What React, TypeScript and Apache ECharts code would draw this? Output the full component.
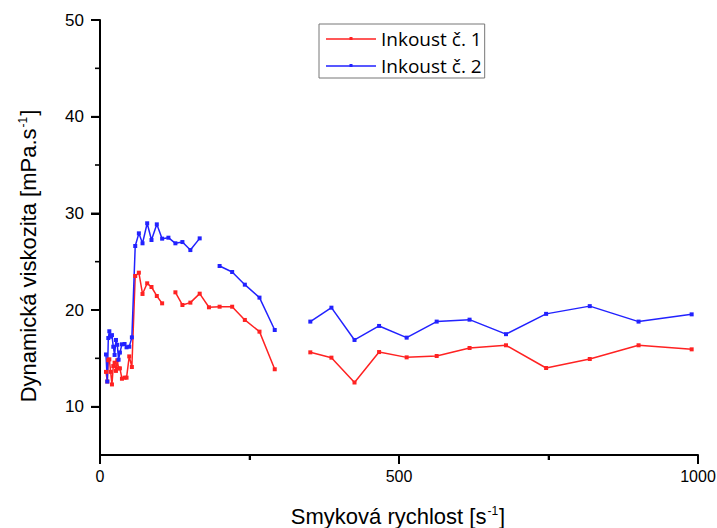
import React, { useEffect, useRef } from "react";
import * as echarts from "echarts";

const shearRates = [
  10, 12.2, 13.9, 15.6, 17.8, 20, 22.2, 24.4, 26.7, 28.9,
  31.1, 33.3, 36.7, 41.1, 44.4, 48.9, 53.3, 58.9, 65, 71.1,
  78.9, 86.1, 95, 103.9, 114.4, 126.1, 137.8, 151.1, 166.7, 182.2,
  200, 221, 242.2, 266.7, 292.2, 320, 351.7, 387, 425.6, 466.7,
  512.8, 563, 618, 678.9, 746, 819, 900.6, 989.4,
];

const ink1 = [
  13.6, 12.6, 14.8, 14.9, 13.6, 12.3, 14.2, 14.55, 13.7, 14.8,
  13.96, 13.96, 12.89, 13.0, 13.0, 15.2, 14.1, 23.52, 23.86, 21.66,
  22.76, 22.38, 21.45, 20.69, null, 21.83, 20.52, 20.76, 21.69, 20.28,
  20.34, 20.34, 18.97, 17.76, 13.87, null, 15.62, 15.07, 12.5, 15.65,
  15.1, 15.24, 16.07, 16.35, 14.0, 14.93, 16.35, 15.93,
];

const ink2 = [
  15.4, 12.6, 17.1, 17.8, 17.24, 17.4, 16.2, 15.35, 16.9, 16.4,
  14.86, 15.6, 16.45, 16.48, 16.14, 16.2, 17.17, 26.62, 27.93, 26.9,
  28.97, 27.24, 28.86, 27.38, 27.48, 26.9, 27.03, 26.2, 27.41, null,
  24.55, 23.93, 22.62, 21.28, 17.93, null, 18.8, 20.24, 16.9, 18.35,
  17.14, 18.8, 19.0, 17.5, 19.6, 20.4, 18.8, 19.55,
];

const seriesNames = ["Inkoust č. 1", "Inkoust č. 2"];
const seriesColors = ["#ff2222", "#2222ff"];
const xMajorTicks = [0, 500, 1000];
const xMinorTicks = [250, 750];
const yMajorTicks = [10, 20, 30, 40, 50];
const yMinorTicks = [15, 25, 35, 45];
const xTitle = "{a|Smyková rychlost [s}{s|-1}{a|]}";
const yTitle = "{a|Dynamická viskozita [mPa.s}{s|-1}{a|]}";

const toPairs = (ys: (number | null)[]) =>
  shearRates.map((x, i) => [x, ys[i] === null ? "-" : ys[i]]);

const legendIcon = "path://M0,1.25H50V2.75H0Z M23.5,0H26.5V3H23.5Z";

export default function App() {
  const ref = useRef<HTMLDivElement>(null);
  useEffect(() => {
    if (!ref.current) return;
    const chart = echarts.init(ref.current, null, { renderer: "svg" });
    const axisFont = "Liberation Sans, Arial, sans-serif";
    const blk = () => ({ color: "#000000", width: 2 });
    const richTitle = {
      a: { fontSize: 22, fontFamily: axisFont, fill: "#000", lineHeight: 22, verticalAlign: "bottom" },
      s: { fontSize: 12, fontFamily: axisFont, fill: "#000", lineHeight: 22, verticalAlign: "top", padding: [0, 1, 0, 1] },
    };
    chart.setOption({
      animation: false,
      backgroundColor: "#fff",
      grid: { left: 100, top: 20, right: 19, bottom: 73, outerBoundsMode: "none" },
      legend: {
        orient: "vertical",
        left: 319,
        top: 24,
        padding: [5, 3, 3, 7],
        itemGap: 8,
        itemWidth: 50,
        itemHeight: 3,
        borderColor: "#777",
        borderWidth: 1,
        textStyle: {
          fontFamily: "Open Sans, Noto Sans, sans-serif",
          fontSize: 19,
          color: "#000",
          lineHeight: 19,
        },
        data: seriesNames.map((n) => ({ name: n, icon: legendIcon })),
      },
      xAxis: {
        type: "value",
        min: 0,
        max: 1000,
        interval: 500,
        z: 10,
        axisLine: { show: true, onZero: false, lineStyle: blk() },
        axisTick: { show: true, length: 9, lineStyle: blk() },
        minorTick: { show: true, splitNumber: 2, length: 5, lineStyle: blk() },
        axisLabel: {
          fontSize: 16,
          color: "#000",
          fontFamily: axisFont,
          margin: 13,
          formatter: (v: number) => String(v),
        },
        splitLine: { show: false },
      },
      yAxis: [
        {
          type: "value",
          min: 5,
          max: 50,
          position: "left",
          z: 10,
          axisLine: { show: true, onZero: false, lineStyle: blk() },
          axisTick: { show: true, length: 9, customValues: yMajorTicks, lineStyle: blk() },
          axisLabel: {
            customValues: yMajorTicks,
            fontSize: 17,
            color: "#000",
            fontFamily: axisFont,
            margin: 16,
          },
          splitLine: { show: false },
        },
      ],
      series: [ink1, ink2].map((vals, k) => ({
        name: seriesNames[k],
        type: "line",
        data: toPairs(vals),
        connectNulls: false,
        symbol: "rect",
        symbolSize: 4,
        color: seriesColors[k],
        lineStyle: { width: 1.5, color: seriesColors[k] },
        itemStyle: { color: seriesColors[k] },
      })),
    });

    const pt = (x: number, y: number) =>
      chart.convertToPixel({ xAxisIndex: 0, yAxisIndex: 0 }, [x, y]) as number[];
    const axisLs = { stroke: "#000", lineWidth: 2 };
    const tickLs = { stroke: "#000", lineWidth: 1.6 };
    const elements: any[] = [
      {
        type: "text",
        x: 398,
        y: 516,
        style: { text: xTitle, align: "center", verticalAlign: "middle", rich: richTitle },
      },
      {
        type: "text",
        x: 28,
        y: 256,
        rotation: Math.PI / 2,
        style: { text: yTitle, align: "center", verticalAlign: "middle", rich: richTitle },
      },
    ];
    const c0 = pt(0, 5);
    const c1 = pt(1000, 50);
    if (c0 && c1 && isFinite(c0[0]) && isFinite(c1[1])) {
      const [x0, yb] = c0;
      const [x1, yt] = c1;
      elements.push(
        { type: "line", z: 100, shape: { x1: x0, y1: yb, x2: x1, y2: yb }, style: axisLs },
        { type: "line", z: 100, shape: { x1: x0, y1: yb, x2: x0, y2: yt }, style: axisLs }
      );
      xMajorTicks.forEach((v) => {
        const px = pt(v, 5)[0];
        elements.push({ type: "line", z: 100, shape: { x1: px, y1: yb, x2: px, y2: yb + 9 }, style: tickLs });
      });
      xMinorTicks.forEach((v) => {
        const px = pt(v, 5)[0];
        elements.push({ type: "line", z: 100, shape: { x1: px, y1: yb, x2: px, y2: yb + 5 }, style: tickLs });
      });
      yMajorTicks.forEach((v) => {
        const py = pt(0, v)[1];
        elements.push({ type: "line", z: 100, shape: { x1: x0 - 9, y1: py, x2: x0, y2: py }, style: tickLs });
      });
      yMinorTicks.forEach((v) => {
        const py = pt(0, v)[1];
        elements.push({ type: "line", z: 100, shape: { x1: x0 - 5, y1: py, x2: x0, y2: py }, style: tickLs });
      });
    }
    chart.setOption({ graphic: { elements } });

    return () => chart.dispose();
  }, []);
  return (
    <div
      ref={ref}
      style={{ position: "absolute", left: 0, top: 0, width: 717, height: 528 }}
    />
  );
}
